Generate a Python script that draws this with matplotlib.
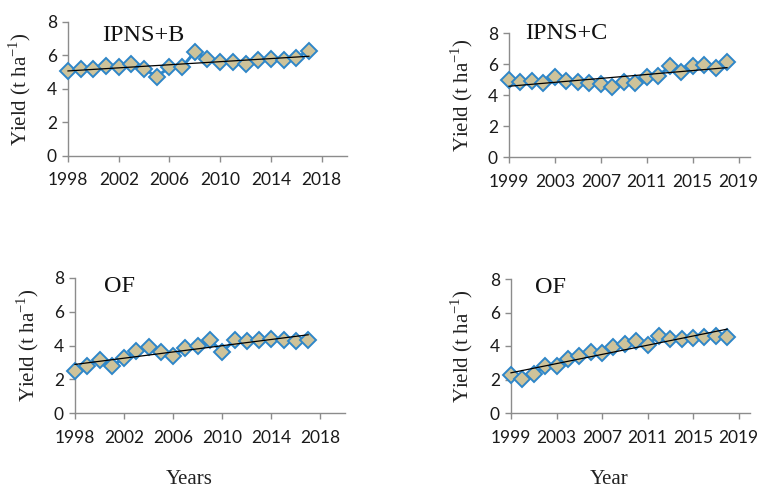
import numpy as np
import matplotlib
matplotlib.use("Agg")
import matplotlib.pyplot as plt

plt.rcParams["mathtext.fontset"] = "custom"
plt.rcParams["mathtext.rm"] = "Liberation Serif"

# ---- data ----
years_b = list(range(1998, 2018))
yield_b = [5.05, 5.2, 5.2, 5.35, 5.3, 5.45, 5.2, 4.7, 5.3, 5.3,
           6.2, 5.75, 5.6, 5.6, 5.5, 5.7, 5.75, 5.7, 5.85, 6.27]

years_c = list(range(1999, 2019))
yield_c = [4.97, 4.86, 4.9, 4.76, 5.15, 4.9, 4.84, 4.76, 4.71, 4.5,
           4.82, 4.76, 5.15, 5.23, 5.84, 5.5, 5.88, 5.95, 5.73, 6.1]

years_of1 = list(range(1998, 2018))
yield_of1 = [2.47, 2.81, 3.16, 2.77, 3.26, 3.66, 3.91, 3.62, 3.36, 3.85,
             3.99, 4.35, 3.6, 4.35, 4.29, 4.35, 4.4, 4.3, 4.29, 4.35]

years_of2 = list(range(1999, 2019))
yield_of2 = [2.28, 2.04, 2.34, 2.78, 2.78, 3.21, 3.41, 3.67, 3.57, 3.97,
             4.11, 4.31, 4.07, 4.6, 4.4, 4.4, 4.46, 4.52, 4.6, 4.56]

titles = ["IPNS+B", "IPNS+C", "OF", "OF"]
xticks_a = [1998, 2002, 2006, 2010, 2014, 2018]
xticks_b = [1999, 2003, 2007, 2011, 2015, 2019]
yticks = [0, 2, 4, 6, 8]

W, H = 759, 491
fig = plt.figure(figsize=(W / 100, H / 100), dpi=100)

def fr(l, r, t, b):
    return [l / W, 1 - b / H, (r - l) / W, (b - t) / H]

rects = [fr(68, 347, 21.7, 155.7), fr(509, 750, 33, 157),
         fr(75, 345, 278, 413), fr(511, 750, 279, 413)]
datasets = [(years_b, yield_b, xticks_a, 1998),
            (years_c, yield_c, xticks_b, 1999),
            (years_of1, yield_of1, xticks_a, 1998),
            (years_of2, yield_of2, xticks_b, 1999)]
title_pos = [(0.269, 0.90), (0.239, 1.0), (0.163, 0.935), (0.167, 0.938)]
ylabel_x = [20, 462, 28, 462]

fill = "#CEC39A"
blue = "#2E86C8"
spine_c = "#8C8C8C"
serif = "Liberation Serif"
tickfont = "Lato"

for i, (rect, (xs, ys, xt, x0)) in enumerate(zip(rects, datasets)):
    ax = fig.add_axes(rect)
    ax.plot(xs, ys, color=blue, lw=2.2, marker="D", ms=8.5,
            mfc=fill, mec=blue, mew=1.4, zorder=3, clip_on=False)
    k, b = np.polyfit(xs, ys, 1)
    xx = np.array([xs[0], xs[-1]])
    ax.plot(xx, k * xx + b, color="black", lw=0.9, zorder=4, clip_on=False)
    ax.set_xlim(x0, 2020)
    ax.set_ylim(0, 8)
    ax.set_xticks(xt)
    ax.set_yticks(yticks)
    for s in ["top", "right"]:
        ax.spines[s].set_visible(False)
    for s in ["left", "bottom"]:
        ax.spines[s].set_color(spine_c)
        ax.spines[s].set_linewidth(1.0)
    ax.tick_params(axis="both", colors=spine_c, length=4, width=1.0,
                   labelcolor="#1a1a1a", labelsize=12.5)
    ax.tick_params(axis="x", pad=8)
    ax.tick_params(axis="y", pad=4)
    for lab in ax.get_xticklabels() + ax.get_yticklabels():
        lab.set_fontfamily(tickfont)
    tx, ty = title_pos[i]
    ax.text(tx, ty, titles[i], transform=ax.transAxes, ha="center",
            va="center", fontsize=17.5, family=serif, color="#111111")
    ycen = (rect[1] + rect[3] / 2)
    fig.text(ylabel_x[i] / W, ycen, "Yield (t ha$^{\\mathrm{-1}}$)",
             rotation=90, ha="center", va="center", fontsize=15,
             family=serif, color="#222222")

fig.text(189.5 / W, 1 - 480 / H, "Years", ha="center", va="center",
         fontsize=15, family=serif, color="#222222")
fig.text(609 / W, 1 - 480 / H, "Year", ha="center", va="center",
         fontsize=15, family=serif, color="#222222")

fig.savefig("out.png", dpi=100, facecolor="white")
